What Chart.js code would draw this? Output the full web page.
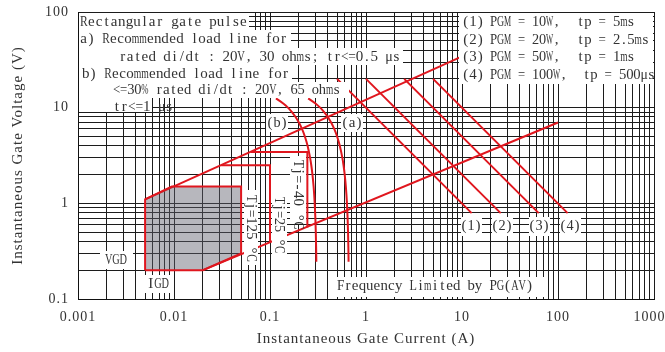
<!DOCTYPE html>
<html><head><meta charset="utf-8">
<script src="https://cdn.jsdelivr.net/npm/chart.js@4/dist/chart.umd.min.js"></script>
<style>html,body{margin:0;padding:0;background:#fff;}canvas{display:block;}</style>
</head><body>
<canvas id="c" width="665" height="352"></canvas>
<script>
// ---------- data (I in A, V in V) ----------
const xTickLabels = ['0.001','0.01','0.1','1','10','100','1000'];
const yTickLabels = ['0.1','1','10','100'];
const xTitle = 'Instantaneous Gate Current (A)';
const yTitle = 'Instantaneous Gate Voltage (V)';

const gateRegion = [[0.005,0.2],[0.005,1.1],[0.0095,1.5],[0.05,1.5],[0.05,0.3],[0.02,0.2],[0.005,0.2]];
const upperLimit = [[0.005,1.1],[9.5,33.5]];
const lowerLimit = [[0.02,0.2],[100,7]];
const tj25 = [[0.031,2.5],[0.1,2.5],[0.1,0.39]];
const tjMinus40 = [[0.063,3.45],[0.245,3.45],[0.245,0.56]];
const loadLineA = [[0.25,12.5],[0.3,11],[0.3333,10],[0.3667,9],[0.4,8],[0.4333,7],[0.4667,6],[0.5,5],[0.5333,4],[0.5667,3],[0.5833,2.5],[0.6,2],[0.6167,1.5],[0.6333,1],[0.6433,0.7],[0.65,0.5],[0.655,0.35],[0.6585,0.245]];
const loadLineB = [[0.1154,12.5],[0.1385,11],[0.1538,10],[0.1692,9],[0.1846,8],[0.2,7],[0.2154,6],[0.2308,5],[0.2462,4],[0.2615,3],[0.2692,2.5],[0.2769,2],[0.2846,1.5],[0.2923,1],[0.2969,0.7],[0.3,0.5],[0.3023,0.35],[0.3039,0.245]];
const pgm10 = [[0.5,20],[12.6,0.79]];
const pgm20 = [[1,20],[25.3,0.79]];
const pgm50 = [[2.5,20],[63,0.79]];
const pgm100 = [[5,20],[126,0.79]];

const noteLines = ['Rectangular gate pulse','a) Recommended load line for','rated di/dt : 20V, 30 ohms; tr<=0.5 \u03bcs','b) Recommended load line for','<=30% rated di/dt : 20V, 65 ohms','tr<=1 \u03bcs'];
const legendNums = ['(1)','(2)','(3)','(4)'];
const legendPower = ['PGM = 10W,','PGM = 20W,','PGM = 50W,','PGM = 100W,'];
const legendTp = ['tp = 5ms','tp = 2.5ms','tp = 1ms','tp = 500\u03bcs'];
const tjLabels = ['Tj=-40 \u00b0C','Tj=25 \u00b0C','Tj=125 \u00b0C'];

// ---------- styles / layout ----------
const RED = '#e0161e';
const TXT = '#333';
const FONT = "'Liberation Serif', 'Times New Roman', serif";
Chart.defaults.font.family = FONT;

// white label backgrounds [x1,y1,x2,y2] in canvas px
const whiteBoxes = [
  [79,13,232,81],[79,13,249,30],[79,30,291,48],[79,48,403,65],[79,65,292,82],[79,82,349,98],[79,98,152,112],
  [459,13,653,84],
  [461,217,482,236],[492,217,513,236],[529,217,550,236],[560,217,581,236],
  [341,114,363,132],[266,114,288,132],
  [100,251,133,269],[145,275,172,293],
  [335,277,545,297],
  [290,156,306,224],[272,192,287,255],[244,190,258,265]
];
// texts: [string, x, y, pitch, rotated]
const texts = [
  [noteLines[0],80,22,7.6],[noteLines[1],80,39.5,7.4],[noteLines[2],119,57,7.4],
  [noteLines[3],82,74,7.4],[noteLines[4],113,90.5,7.1],[noteLines[5],113,107,7.5],
  [legendNums[0],462,22,7.3],[legendPower[0],490,22,7],[legendTp[0],577,22,7.2],
  [legendNums[1],462,40,7.3],[legendPower[1],490,40,7],[legendTp[1],577,40,7.2],
  [legendNums[2],462,57.5,7.3],[legendPower[2],490,57.5,7],[legendTp[2],577,57.5,7.2],
  [legendNums[3],462,75,7.3],[legendPower[3],490,75,7],[legendTp[3],583,75,7.2],
  [legendNums[0],460.5,226,7],[legendNums[1],491.5,226,7],[legendNums[2],528.5,226,7],[legendNums[3],559.5,226,7],
  ['(a)',341.5,123,7],['(b)',266.5,123,7],
  ['VGD',105,260,7.3],['IGD',147,284,7.3],
  ['Frequency Limited by PG(AV)',337,286.5,7.26],
  [tjLabels[0],298,160,7.7,true],[tjLabels[1],279,197,7,true],[tjLabels[2],251,195,7.4,true]
];

function monoText(ctx, str, x, y, pitch, rot){
  ctx.save();
  ctx.translate(x, y);
  if (rot) ctx.rotate(Math.PI/2);
  ctx.font = '15px ' + FONT;
  ctx.textAlign = 'center';
  ctx.textBaseline = 'middle';
  Array.from(str).forEach((ch, i) => {
    const cx = pitch * (i + 0.5);
    const w = ctx.measureText(ch).width;
    const lim = pitch * 1.02;
    if (w > lim) {
      ctx.save(); ctx.translate(cx, 0); ctx.scale(lim / w, 1); ctx.fillText(ch, 0, 0); ctx.restore();
    } else ctx.fillText(ch, cx, 0);
  });
  ctx.restore();
}

const annotPlugin = {
  id: 'annot',
  beforeDraw(chart){ if ('letterSpacing' in chart.ctx) chart.ctx.letterSpacing = '1px'; },
  afterDatasetsDraw(chart){
    const ctx = chart.ctx;
    ctx.save();
    if ('letterSpacing' in ctx) ctx.letterSpacing = '0px';
    ctx.fillStyle = '#fff';
    whiteBoxes.forEach(b => ctx.fillRect(b[0], b[1], b[2]-b[0], b[3]-b[1]));
    ctx.fillStyle = TXT;
    texts.forEach(t => monoText(ctx, t[0], t[1], t[2], t[3], t[4]));
    ctx.restore();
  }
};

function logGrid(e0, e1){
  const v = [];
  for (let e = e0; e < e1; e++) for (let k = 1; k <= 9; k++) v.push(parseFloat((k*Math.pow(10,e)).toPrecision(6)));
  v.push(Math.pow(10, e1));
  return v;
}
function isPow10(v){ const e = Math.round(Math.log10(v)); return Math.abs(v - Math.pow(10,e)) < 1e-6 * Math.pow(10,e); }

const pts = a => a.map(p => ({x:p[0], y:p[1]}));
const lineDs = (a, extra) => Object.assign({data: pts(a), showLine:true, borderColor:RED, borderWidth:2, pointRadius:0, fill:false, borderJoinStyle:'miter'}, extra||{});

new Chart(document.getElementById('c'), {
  type: 'scatter',
  data: { datasets: [
    lineDs(gateRegion, {fill:'shape', backgroundColor:'rgba(95,95,108,0.45)'}),
    lineDs(upperLimit), lineDs(lowerLimit), lineDs(tj25), lineDs(tjMinus40),
    lineDs(loadLineA, {cubicInterpolationMode:'monotone'}),
    lineDs(loadLineB, {cubicInterpolationMode:'monotone'}),
    lineDs(pgm10), lineDs(pgm20), lineDs(pgm50), lineDs(pgm100)
  ]},
  options: {
    responsive:false, animation:false, devicePixelRatio:1,
    layout:{padding:{top:12, right:11, left:0, bottom:0}},
    plugins:{legend:{display:false}, tooltip:{enabled:false}},
    scales:{
      x:{
        type:'logarithmic', min:0.001, max:1000, position:'bottom',
        afterBuildTicks: s => { s.ticks = logGrid(-3,3).map(v => ({value:v, major:isPow10(v)})); },
        afterFit: s => { s.height = 53; s.paddingLeft = 0; s.paddingRight = 0; },
        grid:{color:'#1c1c1c', lineWidth:1, drawTicks:false},
        border:{display:true, color:'#111', width:1},
        ticks:{autoSkip:false, maxRotation:0, minRotation:0, padding:10, color:TXT, font:{size:14},
          callback:(v) => { if (!isPow10(v)) return ''; const i = Math.round(Math.log10(v)) + 3; return i === xTickLabels.length-1 ? xTickLabels[i] + '  ' : xTickLabels[i]; }},
        title:{display:true, text:xTitle, color:TXT, font:{size:15}, padding:{top:0, bottom:4}}
      },
      y:{
        type:'logarithmic', min:0.1, max:100, position:'left',
        afterBuildTicks: s => { s.ticks = logGrid(-1,2).map(v => ({value:v, major:isPow10(v)})); },
        afterFit: s => { s.width = 78; s.paddingTop = 0; s.paddingBottom = 0; },
        grid:{color:'#1c1c1c', lineWidth:1, drawTicks:false},
        border:{display:true, color:'#111', width:1},
        ticks:{autoSkip:false, padding:9, color:TXT, font:{size:14},
          callback:(v) => { if (!isPow10(v)) return ''; return yTickLabels[Math.round(Math.log10(v)) + 1]; }},
        title:{display:true, text:yTitle, color:TXT, font:{size:15}, padding:{top:9, bottom:0}}
      }
    }
  },
  plugins:[annotPlugin]
});
</script>
</body></html>
